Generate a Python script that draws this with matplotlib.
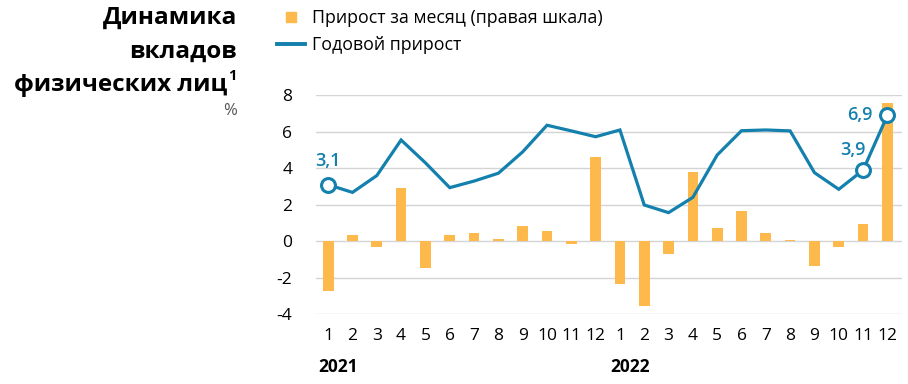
import matplotlib
matplotlib.use("Agg")
import matplotlib.pyplot as plt
from matplotlib.lines import Line2D

months = ["1","2","3","4","5","6","7","8","9","10","11","12"] * 2
years = ["2021", "2022"]
monthly = [-2.70, 0.36, -0.30, 2.94, -1.46, 0.36, 0.45, 0.13, 0.84, 0.58, -0.16, 4.64,
           -2.34, -3.55, -0.71, 3.80, 0.75, 1.66, 0.47, 0.09, -1.37, -0.30, 0.95, 7.60]
annual = [3.1, 2.68, 3.6, 5.55, 4.3, 2.94, 3.3, 3.73, 4.9, 6.36, 6.05, 5.73,
          6.1, 1.99, 1.57, 2.41, 4.73, 6.06, 6.1, 6.05, 3.76, 2.85, 3.9, 6.9]
labels = {0: "3,1", 22: "3,9", 23: "6,9"}

ORANGE = "#FDB94B"
BLUE = "#1380AD"
FONT = ["Open Sans", "DejaVu Sans"]
plt.rcParams["font.family"] = FONT

fig = plt.figure(figsize=(9.08, 3.84), dpi=100)
ax = fig.add_axes([316/908, 1-314.3/384, 586/908, (314.3-95.3)/384])

x = list(range(len(months)))
ax.bar(x, monthly, width=0.44, color=ORANGE, zorder=2)
ax.plot(x, annual, color=BLUE, lw=2.3, zorder=3, solid_joinstyle="miter")
for i in labels:
    ax.plot(x[i], annual[i], "o", ms=10, mfc="white", mec=BLUE, mew=2.2, zorder=4, clip_on=False)

ax.annotate(labels[0], (x[0], annual[0]), xytext=(0, 17), textcoords="offset points",
            ha="center", va="center", color=BLUE, fontsize=13, fontweight="semibold")
ax.annotate(labels[22], (x[22], annual[22]), xytext=(-7, 14.5), textcoords="offset points",
            ha="center", va="center", color=BLUE, fontsize=13, fontweight="semibold")
ax.annotate(labels[23], (x[23], annual[23]), xytext=(-20, 0), textcoords="offset points",
            ha="center", va="center", color=BLUE, fontsize=13, fontweight="semibold")

ax.set_xlim(-0.5, 23.6)
ax.set_ylim(-4, 8)
ax.set_yticks([-4, -2, 0, 2, 4, 6, 8])
ax.set_yticklabels(["-4", "-2", "0", "2", "4", "6", "8"])
ax.set_xticks(x)
ax.set_xticklabels(months)
ax.tick_params(axis="y", length=0, pad=17, labelsize=12.5)
ax.tick_params(axis="x", length=0, pad=10, labelsize=12.5)
ax.grid(axis="y", color="#d4d4d4", lw=1, zorder=0)
for s in ax.spines.values():
    s.set_visible(False)

# year labels
for k, yr in enumerate(years):
    xd = ax.transData.transform((12*k, 0))[0]
    fig.text((xd - 10)/908, 1-367/384, yr, ha="left", va="center", fontsize=12.5, fontweight="bold")

# title
TS = 17.5
fig.text(237/908, 1-18/384, "Динамика", ha="right", va="center", fontsize=TS, fontweight="bold")
fig.text(237/908, 1-52/384, "вкладов", ha="right", va="center", fontsize=TS, fontweight="bold")
fig.text(227/908, 1-85/384, "физических лиц", ha="right", va="center", fontsize=TS, fontweight="bold")
fig.text(228/908, 1-76/384, "1", ha="left", va="center", fontsize=10.5, fontweight="bold")
fig.text(237/908, 1-111/384, "%", ha="right", va="center", fontsize=12, color="#555555")

handles = [Line2D([0], [0], marker="s", ms=7.5, color=ORANGE, lw=0),
           Line2D([0], [0], color=BLUE, lw=2.8)]
leg = fig.legend(handles, ["Прирост за месяц (правая шкала)", "Годовой прирост"],
                 loc="upper left", bbox_to_anchor=(268/908, 1.0), frameon=False,
                 fontsize=12.8, handlelength=1.6, labelspacing=0.5,
                 handletextpad=0.4, borderaxespad=0.1)

fig.savefig("out.png", dpi=100)
